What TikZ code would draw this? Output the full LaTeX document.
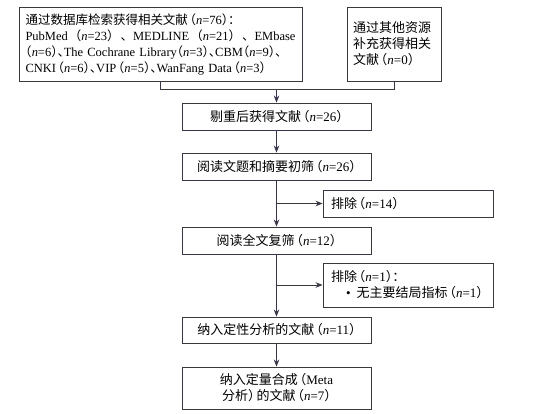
\documentclass[tikz,border=0pt]{standalone}
\usepackage{fontspec}
\setmainfont{Liberation Serif}
\newfontfamily\cjk{Noto Sans CJK SC}
\newfontfamily\cjkh[RawFeature=+halt]{Noto Sans CJK SC}
\usetikzlibrary{arrows.meta}
\newcommand{\C}[1]{{\cjk #1}}
\newcommand{\nn}{\textit{n}}
% compact punctuation
\newcommand{\Lp}{\hspace{.15em}{\cjkh （}}
\newcommand{\Rp}{{\cjkh ）}\hspace{.15em}}
\newcommand{\Lq}{{\cjkh （}}
\newcommand{\Rq}{{\cjkh ）}}
\newcommand{\Dn}{{\cjkh 、}}
\newcommand{\Cn}{{\cjkh ：}}
\definecolor{ln}{HTML}{3A3548}
\tikzset{
  box/.style={draw=ln, line width=0.9pt, rectangle, inner sep=0pt, font=\fontsize{13}{16}\selectfont, text=black},
  conn/.style={draw=ln, line width=0.9pt},
  arr/.style={conn, -{Stealth[length=7pt,width=5.5pt]}}
}
\begin{document}
\begin{tikzpicture}[x=1pt,y=-1pt]
\useasboundingbox (0,0) rectangle (557,413);
\node[box, minimum width=283, minimum height=74, align=left, text width=270, font=\fontsize{12.5}{16}\selectfont] (b1) at (160.5,44)
 {\mbox{\C{通过数据库检索获得相关文献}\Lp\nn=76\Rq\Cn}\\
  \makebox[270pt][s]{PubMed\hfil\C{（}\nn=23\C{）}\hfil\C{、}MEDLINE\hfil\C{（}\nn=21\C{）}\hfil\C{、}EMbase}\\
  \makebox[270pt][s]{\Lq\nn=6\Rq\Dn The Cochrane Library\Lq\nn=3\Rq\Dn CBM\Lq\nn=9\Rq\Dn}\\
  \mbox{CNKI\Lp\nn=6\Rq\Dn VIP\Lp\nn=5\Rq\Dn WanFang Data\Lp\nn=3\Rq}};
\node[box, minimum width=94, minimum height=74, align=left, text width=82] (b2) at (394,44)
 {\mbox{\C{通过其他资源}}\\\mbox{\C{补充获得相关}}\\\mbox{\C{文献}\Lp\nn=0\Rp}};
\node[box, minimum width=189, minimum height=27] (b3) at (276.5,116.5)
 {\C{剔重后获得文献}\Lp\nn=26\Rp};
\node[box, minimum width=189, minimum height=27] (b4) at (276.5,166.5)
 {\C{阅读文题和摘要初筛}\Lp\nn=26\Rp};
\node[box, minimum width=170, minimum height=27, align=left, text width=154] (x1) at (408,203.5)
 {\mbox{\C{排除}\Lp\nn=14\Rp}};
\node[box, minimum width=189, minimum height=27] (b5) at (276.5,240.5)
 {\C{阅读全文复筛}\Lp\nn=12\Rp};
\node[box, minimum width=170, minimum height=44, align=left, text width=154] (x2) at (408,285)
 {\mbox{\C{排除}\Lp\nn=1\Rq\Cn}\\\mbox{\hspace*{15pt}\textbullet\hspace{6pt}\C{无主要结局指标}\Lp\nn=1\Rp}};
\node[box, minimum width=189, minimum height=26] (b6) at (276.5,330)
 {\C{纳入定性分析的文献}\Lp\nn=11\Rp};
\node[box, minimum width=189, minimum height=42, align=center] (b7) at (276.5,388)
 {\C{纳入定量合成}\Lp Meta\\\C{分析}\Rp\C{的文献}\Lp\nn=7\Rp};
\coordinate (j) at (276.5,89.5);
\draw[conn] (b1.south) |- (j) -| (b2.south);
\draw[arr] (j) -- (b3.north);
\draw[arr] (b3.south) -- (b4.north);
\draw[arr] (b4.south) -- (b5.north);
\draw[arr] (b4.south |- x1.west) -- (x1.west);
\draw[arr] (b5.south) -- (b6.north);
\draw[arr] (b5.south |- x2.west) -- (x2.west);
\draw[arr] (b6.south) -- (b7.north);
\end{tikzpicture}
\end{document}
